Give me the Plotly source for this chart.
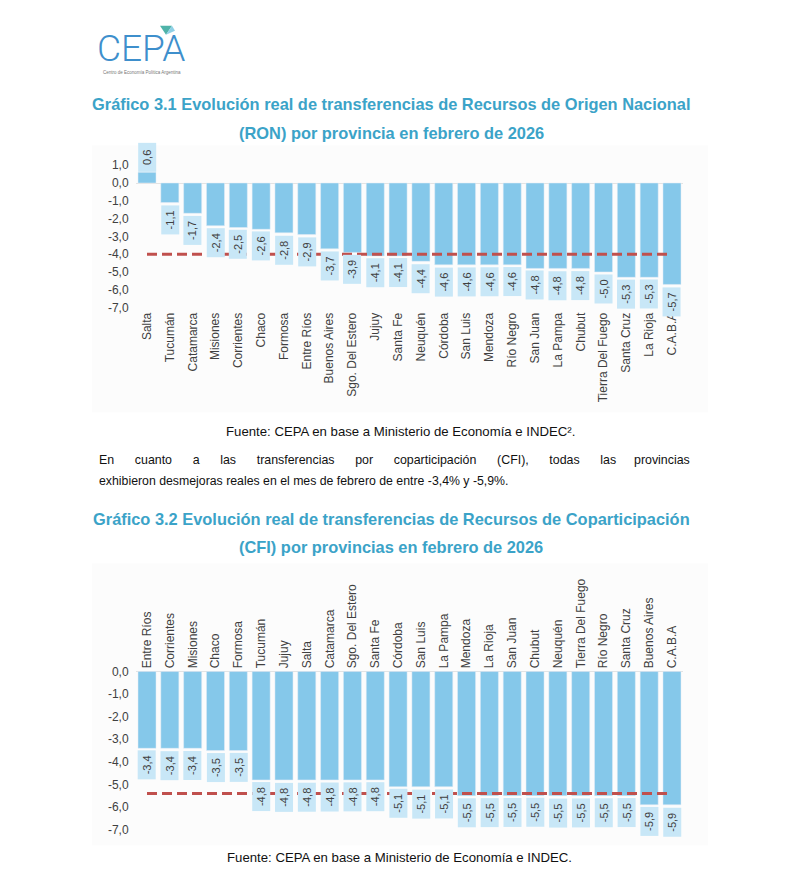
import plotly.graph_objects as go

# ---------------- DATA ----------------
ron_provincias = ["Salta", "Tucumán", "Catamarca", "Misiones", "Corrientes", "Chaco",
                  "Formosa", "Entre Ríos", "Buenos Aires", "Sgo. Del Estero", "Jujuy",
                  "Santa Fe", "Neuquén", "Córdoba", "San Luis", "Mendoza", "Río Negro",
                  "San Juan", "La Pampa", "Chubut", "Tierra Del Fuego", "Santa Cruz",
                  "La Rioja", "C.A.B.A"]
ron_valores = [0.6, -1.1, -1.7, -2.4, -2.5, -2.6, -2.8, -2.9, -3.7, -3.9, -4.1, -4.1,
               -4.4, -4.6, -4.6, -4.6, -4.6, -4.8, -4.8, -4.8, -5.0, -5.3, -5.3, -5.7]
ron_total = -4.0

cfi_provincias = ["Entre Ríos", "Corrientes", "Misiones", "Chaco", "Formosa", "Tucumán",
                  "Jujuy", "Salta", "Catamarca", "Sgo. Del Estero", "Santa Fe", "Córdoba",
                  "San Luis", "La Pampa", "Mendoza", "La Rioja", "San Juan", "Chubut",
                  "Neuquén", "Tierra Del Fuego", "Río Negro", "Santa Cruz", "Buenos Aires",
                  "C.A.B.A"]
cfi_valores = [-3.4, -3.4, -3.4, -3.5, -3.5, -4.8, -4.8, -4.8, -4.8, -4.8, -4.8, -5.1,
               -5.1, -5.1, -5.5, -5.5, -5.5, -5.5, -5.5, -5.5, -5.5, -5.5, -5.9, -5.9]
cfi_total = -5.4

ron_ticks = [1, 0, -1, -2, -3, -4, -5, -6, -7]
cfi_ticks = [0, -1, -2, -3, -4, -5, -6, -7]

titulo1 = ["Gráfico 3.1 Evolución real de transferencias de Recursos de Origen Nacional",
           "(RON) por provincia en febrero de 2026"]
titulo2 = ["Gráfico 3.2 Evolución real de transferencias de Recursos de Coparticipación",
           "(CFI) por provincias en febrero de 2026"]
fuente1 = "Fuente: CEPA en base a Ministerio de Economía e INDEC²."
fuente2 = "Fuente: CEPA en base a Ministerio de Economía e INDEC."
parrafo_l1_izq = ["En", "cuanto", "a", "las", "transferencias", "por", "coparticipación",
                  "(CFI),", "todas", "las"]
parrafo_l1_der = "provincias"
parrafo_l2 = "exhibieron desmejoras reales en el mes de febrero de entre -3,4% y -5,9%."

# ---------------- STYLE ----------------
W, H = 790, 880           # browser window
OFF = 8                   # default page body margin
FW, FH = W - 2 * OFF, H - 2 * OFF
BAR = "#85C8EA"
BOX = "#C8E7F7"
RED = "#C0504D"
TITLE = "#3BA3C8"
TXT = "#404040"
SANS = "Liberation Sans, Arial, sans-serif"


def px(x):
    return (x - OFF) / FW


def py(y):
    return 1 - (y - OFF) / FH


def fmt(v):
    return f"{v:.1f}".replace(".", ",")


fig = go.Figure()

fig.add_trace(go.Bar(x=ron_provincias, y=ron_valores, marker_color=BAR,
                     xaxis="x", yaxis="y", hoverinfo="skip"))
fig.add_trace(go.Scatter(x=ron_provincias, y=[ron_total] * len(ron_provincias),
                         mode="lines", line=dict(color=RED, width=3, dash="10px,5px"),
                         xaxis="x", yaxis="y", hoverinfo="skip"))
fig.add_trace(go.Bar(x=cfi_provincias, y=cfi_valores, marker_color=BAR,
                     xaxis="x2", yaxis="y2", hoverinfo="skip"))
fig.add_trace(go.Scatter(x=cfi_provincias, y=[cfi_total] * len(cfi_provincias),
                         mode="lines", line=dict(color=RED, width=3, dash="10px,5px"),
                         xaxis="x2", yaxis="y2", hoverinfo="skip"))

annotations = []


def bar_labels(cats, vals, xref, yref):
    for c, v in zip(cats, vals):
        annotations.append(dict(
            x=c, y=v, xref=xref, yref=yref, text=fmt(v), showarrow=False,
            textangle=-90, bgcolor=BOX, width=29, height=18, borderpad=0, borderwidth=0,
            xanchor="center", yanchor="top" if v < 0 else "bottom",
            yshift=-2.5 if v < 0 else 0,
            font=dict(family=SANS, size=11, color=TXT), align="center", valign="middle"))


bar_labels(ron_provincias, ron_valores, "x", "y")
bar_labels(cfi_provincias, cfi_valores, "x2", "y2")


def paper_text(x, y, text, size, color, anchor="center", family=SANS, **kw):
    annotations.append(dict(x=px(x), y=py(y), xref="paper", yref="paper", text=text,
                            showarrow=False, xanchor=anchor, yanchor="middle",
                            font=dict(family=family, size=size, color=color, **kw)))


# titles
for t, y in zip(titulo1, [100, 129]):
    paper_text(391, y, f"<b>{t}</b>", 16.4, TITLE)
for t, y in zip(titulo2, [520, 548]):
    paper_text(391, y, f"<b>{t}</b>", 16.4, TITLE)
# sources
paper_text(400, 431, fuente1, 13.2, "#111111")
paper_text(399, 862, fuente2, 13.2, "#111111")
# paragraph (first line justified)
gap = " " + "\u00a0" * 5
paper_text(97, 460, gap.join(parrafo_l1_izq), 12.4, "#111111", anchor="left")
paper_text(692, 460, parrafo_l1_der, 12.4, "#111111", anchor="right")
paper_text(97, 481, parrafo_l2, 12.3, "#111111", anchor="left")
# logo
paper_text(95, 44, "CEPA", 37, "#3E8FCC", anchor="left", family="Roboto, sans-serif",
           weight=300)
paper_text(101, 68, "Centro de Economía Política Argentina", 4.5, "#777777", anchor="left")

shapes = [
    dict(type="rect", xref="paper", yref="paper", x0=px(92), x1=px(708), y0=py(412), y1=py(142),
         fillcolor="#FCFCFC", line=dict(width=0), layer="below"),
    dict(type="rect", xref="paper", yref="paper", x0=px(92), x1=px(708), y0=py(850), y1=py(565),
         fillcolor="#FCFCFC", line=dict(width=0), layer="below"),
    dict(type="path", xref="paper", yref="paper",
         path=f"M {px(160)} {py(21)} L {px(172)} {py(21)} L {px(166)} {py(30)} Z",
         fillcolor="#4FB3A9", line=dict(width=0)),
    dict(type="path", xref="paper", yref="paper",
         path=f"M {px(166)} {py(30)} L {px(172)} {py(21)} L {px(175)} {py(26)} Z",
         fillcolor="#8FD0E6", line=dict(width=0)),
]

xdom = [px(135.6), px(683.4)]
axis_font = dict(family=SANS, size=12, color=TXT)

fig.update_layout(
    width=FW, height=FH, margin=dict(l=0, r=0, t=0, b=0),
    paper_bgcolor="white", plot_bgcolor="rgba(0,0,0,0)",
    showlegend=False, bargap=0.21,
    annotations=annotations, shapes=shapes,
    xaxis=dict(domain=xdom, anchor="y", type="category", categoryorder="array",
               categoryarray=ron_provincias, range=[-0.5, 23.5], tickangle=-90,
               showgrid=False, showline=False, zeroline=False, ticks="",
               tickfont=axis_font),
    yaxis=dict(domain=[py(307.8), py(144)], anchor="x", range=[-7.1, 2.0],
               tickvals=ron_ticks, ticktext=[fmt(v) for v in ron_ticks],
               showgrid=False, zeroline=True, zerolinecolor="#E3E3E3", zerolinewidth=1,
               showline=False, ticks="", tickfont=axis_font, ticklabelstandoff=6),
    xaxis2=dict(domain=xdom, anchor="y2", side="top", type="category",
                categoryorder="array", categoryarray=cfi_provincias, range=[-0.5, 23.5],
                tickangle=-90, showgrid=False, showline=False, zeroline=False, ticks="",
                tickfont=axis_font),
    yaxis2=dict(domain=[py(841), py(672)], anchor="x2", range=[-7.3, 0.1],
                tickvals=cfi_ticks, ticktext=[fmt(v) for v in cfi_ticks],
                showgrid=False, zeroline=True, zerolinecolor="#E3E3E3", zerolinewidth=1,
                showline=False, ticks="", tickfont=axis_font, ticklabelstandoff=6),
)

fig.write_html("out.html")
